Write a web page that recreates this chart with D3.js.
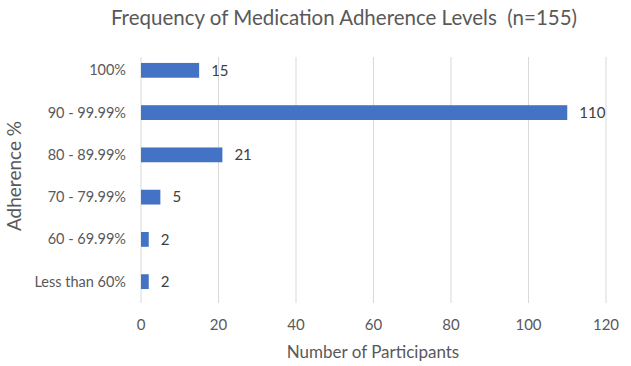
<!DOCTYPE html>
<html>
<head>
<meta charset="utf-8">
<script src="https://cdn.jsdelivr.net/npm/d3@7"></script>
<style>
  body { margin: 0; background: #fff; }
  text { font-family: Lato, "Open Sans", sans-serif; white-space: pre; }
</style>
</head>
<body>
<svg id="chart" width="631" height="366"></svg>
<script>
// Adherence levels, top to bottom
let categories = ['100%', '90 - 99.99%', '80 - 89.99%', '70 - 79.99%', '60 - 69.99%', 'Less than 60%']
let counts = [15, 110, 21, 5, 2, 2]
let xTicks = [0, 20, 40, 60, 80, 100, 120]

let margin = { top: 49, right: 24, bottom: 63, left: 141 }
let width = 631, height = 366

let svg = d3.select('#chart')

let x = d3.scaleLinear()
  .domain([0, 120])
  .range([margin.left, width - margin.right - 1])

let y = d3.scaleBand()
  .domain(categories)
  .range([margin.top, height - margin.bottom])
  .paddingInner(0.65)
  .paddingOuter(0.33)

// gridlines
svg.append('g')
  .attr('id', 'grid')
  .selectAll('line')
  .data(xTicks)
  .join('line')
  .attr('x1', d => x(d))
  .attr('x2', d => x(d))
  .attr('y1', margin.top + 8)
  .attr('y2', height - margin.bottom)
  .style('stroke', '#d9d9d9')
  .style('stroke-width', 1)

// bars
svg.append('g')
  .attr('id', 'bars')
  .selectAll('rect')
  .data(counts)
  .join('rect')
  .attr('x', x(0))
  .attr('y', (d, i) => y(categories[i]))
  .attr('width', d => x(d) - x(0))
  .attr('height', y.bandwidth())
  .style('fill', '#4472c4')

// value labels
svg.append('g')
  .attr('id', 'values')
  .selectAll('text')
  .data(counts)
  .join('text')
  .attr('x', d => x(d) + 12)
  .attr('y', (d, i) => y(categories[i]) + y.bandwidth() / 2)
  .attr('dy', '0.35em')
  .style('font-size', '15px')
  .style('fill', '#404040')
  .text(d => d)

// category labels
svg.append('g')
  .attr('id', 'cats')
  .selectAll('text')
  .data(categories)
  .join('text')
  .attr('x', margin.left - 15)
  .attr('y', d => y(d) + y.bandwidth() / 2)
  .attr('dy', '0.35em')
  .attr('text-anchor', 'end')
  .style('font-size', '14.5px')
  .style('fill', '#595959')
  .text(d => d)

// x tick labels
svg.append('g')
  .attr('id', 'xticks')
  .selectAll('text')
  .data(xTicks)
  .join('text')
  .attr('x', d => x(d))
  .attr('y', 330)
  .attr('text-anchor', 'middle')
  .style('font-size', '15px')
  .style('fill', '#595959')
  .text(d => d)

// titles
svg.append('text')
  .attr('x', 344)
  .attr('y', 25)
  .attr('text-anchor', 'middle')
  .style('font-size', '20.5px')
  .style('fill', '#595959')
  .text('Frequency of Medication Adherence Levels  (n=155)')

svg.append('text')
  .attr('x', 373)
  .attr('y', 358)
  .attr('text-anchor', 'middle')
  .style('font-size', '17px')
  .style('fill', '#595959')
  .text('Number of Participants')

svg.append('text')
  .attr('transform', 'translate(21, 176) rotate(-90)')
  .attr('text-anchor', 'middle')
  .style('font-size', '19px')
  .style('fill', '#595959')
  .text('Adherence %')
</script>
</body>
</html>
